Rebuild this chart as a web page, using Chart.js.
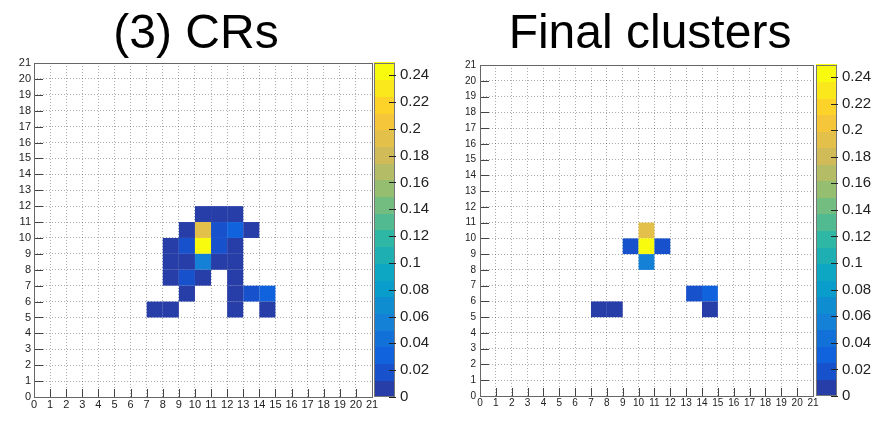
<!DOCTYPE html>
<html>
<head>
<meta charset="utf-8">
<script src="https://cdn.jsdelivr.net/npm/chart.js@4/dist/chart.umd.min.js"></script>
<style>
  html, body { margin: 0; padding: 0; background: #fff; }
  #wrap { position: relative; width: 879px; height: 434px; overflow: hidden; }
  canvas { position: absolute; top: 0; }
</style>
</head>
<body>
<div id="wrap">
  <canvas id="crs" width="440" height="434" style="left:0px"></canvas>
  <canvas id="final" width="439" height="434" style="left:440px"></canvas>
</div>
<script>
// Axis ticks (bin edges) shared by both maps
const axisTicks = [0,1,2,3,4,5,6,7,8,9,10,11,12,13,14,15,16,17,18,19,20,21];
// Colour-scale ticks
const zTicks = [0,0.02,0.04,0.06,0.08,0.1,0.12,0.14,0.16,0.18,0.2,0.22,0.24];
const zMax = 0.249;
const nContours = 20;

// (3) CRs : bin lower-left corners and contents
const crsX   = [10,11,12,  9,10,11,12,13,  8,9,10,11,12,  8,9,10,11,12,  8,9,10,12,  9,12,13,14,  7,8,12,14];
const crsY   = [11,11,11, 10,10,10,10,10,  9,9,9,9,9,     8,8,8,8,8,     7,7,7,7,    6,6,6,6,     5,5,5,5];
const crsVal = [0.008,0.010,0.009,
                0.011,0.192,0.024,0.036,0.010,
                0.009,0.020,0.249,0.020,0.011,
                0.008,0.011,0.062,0.010,0.009,
                0.009,0.021,0.010,0.008,
                0.009,0.010,0.020,0.032,
                0.007,0.008,0.009,0.010];

// Final clusters
const finalX   = [10, 9,10,11, 10, 13,14, 7,8,14];
const finalY   = [10, 9, 9, 9,  8,  6, 6, 5,5, 5];
const finalVal = [0.192, 0.020,0.249,0.020, 0.062, 0.020,0.032, 0.007,0.008,0.010];

// kBird palette definition
const birdStops = [0.0000,0.1250,0.2500,0.3750,0.5000,0.6250,0.7500,0.8750,1.0000];
const birdR = [0.2082,0.0592,0.0780,0.0232,0.1802,0.5301,0.8186,0.9956,0.9764];
const birdG = [0.1664,0.3599,0.5041,0.6419,0.7178,0.7492,0.7328,0.7862,0.9832];
const birdB = [0.5293,0.8684,0.8385,0.7914,0.6425,0.4662,0.3499,0.1968,0.0539];

function birdColor(f) {
  f = Math.min(1, Math.max(0, f));
  let i = 0;
  while (i < birdStops.length - 2 && f > birdStops[i + 1]) i++;
  const t = (f - birdStops[i]) / (birdStops[i + 1] - birdStops[i]);
  const c = a => Math.round(255 * (a[i] + (a[i + 1] - a[i]) * t));
  return `rgb(${c(birdR)},${c(birdG)},${c(birdB)})`;
}
function bandColor(band) {
  const idx = Math.floor((band + 0.99) * 255 / nContours);
  return birdColor(idx / 254);
}
function valueColor(v, zmax) {
  let band = Math.floor(v / zmax * nContours);
  band = Math.max(0, Math.min(nContours - 1, band));
  return bandColor(band);
}

Chart.defaults.font.family = '"Liberation Sans", Arial, Helvetica, sans-serif';
Chart.defaults.color = '#222';

// Filled bins, drawn under the dotted grid
const heatCells = {
  id: 'heatCells',
  beforeDatasetsDraw(chart) {
    const { ctx, scales: { x, y } } = chart;
    const zmax = chart.options.plugins.heatCells.zMax;
    ctx.save();
    chart.data.datasets[0].data.forEach(p => {
      const x0 = x.getPixelForValue(p.x), x1 = x.getPixelForValue(p.x + 1);
      const y0 = y.getPixelForValue(p.y + 1), y1 = y.getPixelForValue(p.y);
      ctx.fillStyle = valueColor(p.v, zmax);
      ctx.fillRect(x0, y0, x1 - x0, y1 - y0);
    });
    ctx.restore();
  }
};

// Frame, inner tick marks, colour bar and panel title
const frameAndBar = {
  id: 'frameAndBar',
  afterDraw(chart) {
    const { ctx, chartArea: a, scales: { x, y, z } } = chart;
    const o = chart.options.plugins.frameAndBar;
    ctx.save();
    // inner ticks
    ctx.strokeStyle = '#444';
    ctx.lineWidth = 1;
    ctx.beginPath();
    axisTicks.forEach(t => {
      const py = Math.round(y.getPixelForValue(t)) + 0.5;
      ctx.moveTo(a.left, py); ctx.lineTo(a.left + 9, py);
      const px = Math.round(x.getPixelForValue(t)) + 0.5;
      ctx.moveTo(px, a.bottom); ctx.lineTo(px, a.bottom - 8);
    });
    ctx.stroke();
    // frame
    ctx.strokeStyle = '#666';
    ctx.strokeRect(Math.round(a.left) + 0.5, Math.round(a.top) + 0.5,
                   Math.round(a.right - a.left), Math.round(a.bottom - a.top));
    // colour bar
    const bl = a.right + o.barGap, bw = o.barWidth;
    for (let b = 0; b < nContours; b++) {
      const lo = b * zMax / nContours, hi = (b + 1) * zMax / nContours;
      const p0 = z.getPixelForValue(hi), p1 = z.getPixelForValue(lo);
      ctx.fillStyle = bandColor(b);
      ctx.fillRect(bl, Math.floor(p0), bw, Math.ceil(p1) - Math.floor(p0));
    }
    ctx.strokeStyle = '#777';
    ctx.strokeRect(Math.round(bl) + 0.5, Math.round(z.getPixelForValue(zMax)) + 0.5,
                   bw - 1, Math.round(z.getPixelForValue(0) - z.getPixelForValue(zMax)) - 1);
    ctx.strokeStyle = '#222';
    ctx.beginPath();
    zTicks.forEach(t => {
      const py = Math.round(z.getPixelForValue(t)) + 0.5;
      ctx.moveTo(bl + bw - 6, py); ctx.lineTo(bl + bw + 1, py);
    });
    ctx.stroke();
    // title
    ctx.fillStyle = '#000';
    ctx.font = '48px "Liberation Sans", Arial, Helvetica, sans-serif';
    ctx.textAlign = 'center';
    ctx.textBaseline = 'alphabetic';
    ctx.fillText(o.title, o.titleX, 48);
    ctx.restore();
  }
};

function makeMap(id, xs, ys, vals, cfg) {
  const setTicks = list => s => { s.ticks = list.map(v => ({ value: v })); };
  const grid = {
    color: 'rgba(0,0,0,0.33)', lineWidth: 1, drawTicks: false
  };
  new Chart(document.getElementById(id), {
    type: 'scatter',
    data: {
      datasets: [{
        data: xs.map((x, i) => ({ x: x, y: ys[i], v: vals[i] })),
        pointRadius: 0, pointHoverRadius: 0
      }]
    },
    options: {
      responsive: false,
      animation: false,
      devicePixelRatio: 1,
      events: [],
      layout: { padding: { top: cfg.top, left: 0, right: 0, bottom: 0 } },
      plugins: {
        legend: { display: false },
        tooltip: { enabled: false },
        heatCells: { zMax: zMax },
        frameAndBar: { title: cfg.title, titleX: cfg.titleX, barGap: cfg.barGap, barWidth: 21 }
      },
      scales: {
        x: {
          type: 'linear', position: 'bottom', min: 0, max: 21, z: 1,
          grid: grid,
          border: { display: false, dash: [1, 2] },
          afterBuildTicks: setTicks(axisTicks),
          afterFit: s => { s.height = 434 - cfg.top - cfg.plotH; },
          ticks: { autoSkip: false, maxRotation: 0, padding: 1, font: { size: cfg.axisFont }, color: '#222' }
        },
        y: {
          type: 'linear', position: 'left', min: 0, max: 21, z: 1,
          grid: grid,
          border: { display: false, dash: [1, 2] },
          afterBuildTicks: setTicks(axisTicks),
          afterFit: s => { s.width = cfg.left; },
          ticks: { autoSkip: false, padding: cfg.yPad, font: { size: cfg.axisFont }, color: '#222' }
        },
        z: {
          type: 'linear', position: 'right', min: 0, max: zMax,
          grid: { display: false, drawTicks: false },
          border: { display: false },
          afterBuildTicks: setTicks(zTicks),
          afterFit: s => { s.width = cfg.zWidth; },
          ticks: {
            autoSkip: false, padding: cfg.zPad, font: { size: 15 }, color: '#222',
            callback: v => String(Number(v.toFixed(4)))
          }
        }
      }
    },
    plugins: [heatCells, frameAndBar]
  });
}

makeMap('crs', crsX, crsY, crsVal, {
  title: '(3) CRs', titleX: 196, top: 63, plotH: 359,
  left: 34, zWidth: 440 - 372, zPad: 28, yPad: 3, barGap: 2, axisFont: 11
});
makeMap('final', finalX, finalY, finalVal, {
  title: 'Final clusters', titleX: 210, top: 65, plotH: 357,
  left: 40, zWidth: 439 - 373, zPad: 29, yPad: 4, barGap: 3, axisFont: 10
});
</script>
</body>
</html>
